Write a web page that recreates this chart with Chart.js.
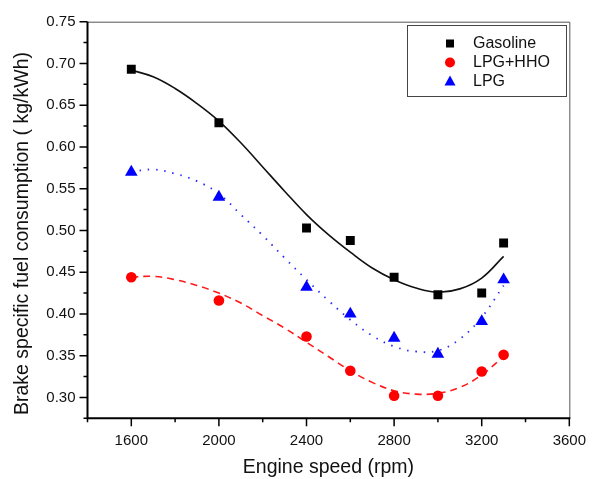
<!DOCTYPE html>
<html>
<head>
<meta charset="utf-8">
<script src="https://cdn.jsdelivr.net/npm/chart.js@4.4.1/dist/chart.umd.min.js"></script>
<style>
  html, body { margin: 0; padding: 0; background: #fff; }
  #wrap { width: 592px; height: 479px; }
</style>
</head>
<body>
<div id="wrap"><canvas id="bsfcChart" width="592" height="479"></canvas></div>
<script>
// measured points
const speeds = [1600, 2000, 2400, 2600, 2800, 3000, 3200, 3300];
const gasoline = [0.693, 0.629, 0.503, 0.488, 0.444, 0.423, 0.425, 0.485];
const lpgHho = [0.444, 0.416, 0.373, 0.332, 0.302, 0.302, 0.331, 0.351];
const lpg = [0.570, 0.540, 0.432, 0.400, 0.371, 0.352, 0.391, 0.441];

// fitted curves, every 100 rpm
const fitSpeeds = [1600, 1700, 1800, 1900, 2000, 2100, 2200, 2300, 2400,
                   2500, 2600, 2700, 2800, 2900, 3000, 3100, 3200, 3300];
const gasolineFit = [0.692, 0.684, 0.670, 0.652, 0.631, 0.605, 0.576, 0.547, 0.519,
                     0.495, 0.474, 0.455, 0.441, 0.431, 0.426, 0.430, 0.443, 0.469];
const lpgHhoFit = [0.444, 0.445, 0.441, 0.434, 0.425, 0.413, 0.398, 0.383, 0.366,
                   0.349, 0.332, 0.318, 0.308, 0.304, 0.305, 0.312, 0.327, 0.349];
const lpgFit = [0.570, 0.573, 0.568, 0.559, 0.544, 0.519, 0.494, 0.467, 0.441,
                0.416, 0.393, 0.374, 0.361, 0.355, 0.356, 0.370, 0.396, 0.434];

const xLabels = [1600, 2000, 2400, 2800, 3200, 3600];
const yLabels = [0.30, 0.35, 0.40, 0.45, 0.50, 0.55, 0.60, 0.65, 0.70, 0.75];

const FONT = "'Liberation Sans', Arial, sans-serif";

function pts(xs, ys) {
  return xs.map((x, i) => ({ x: x, y: ys[i] }));
}

function isMajorX(v) {
  return xLabels.indexOf(Math.round(v)) >= 0;
}
function isMajorY(v) {
  return yLabels.some(l => Math.abs(l - v) < 1e-6);
}

// frame, tick marks, y title
const frameAndTicks = {
  id: "frameAndTicks",
  afterDraw(chart) {
    const ctx = chart.ctx;
    const a = chart.chartArea;
    const xs = chart.scales.x;
    const ys = chart.scales.y;
    ctx.save();
    ctx.strokeStyle = "#555";
    ctx.lineWidth = 1;
    ctx.beginPath();
    ctx.moveTo(a.left, a.top + 0.5);
    ctx.lineTo(a.right + 0.5, a.top + 0.5);
    ctx.lineTo(a.right + 0.5, a.bottom);
    ctx.stroke();

    ctx.strokeStyle = "#000";
    ctx.lineWidth = 2;
    ctx.beginPath();
    ctx.moveTo(a.left, a.top);
    ctx.lineTo(a.left, a.bottom);
    ctx.lineTo(a.right + 1, a.bottom);
    ctx.stroke();

    ctx.lineWidth = 1.5;
    ctx.beginPath();
    xs.ticks.forEach(t => {
      const px = xs.getPixelForValue(t.value);
      const len = isMajorX(t.value) ? 8 : 4;
      ctx.moveTo(px, a.bottom);
      ctx.lineTo(px, a.bottom + len);
    });
    ys.ticks.forEach(t => {
      const py = ys.getPixelForValue(t.value);
      const len = isMajorY(t.value) ? 8 : 4;
      ctx.moveTo(a.left, py);
      ctx.lineTo(a.left - len, py);
    });
    ctx.stroke();

    ctx.translate(22.5, 233.5);
    ctx.rotate(-Math.PI / 2);
    ctx.fillStyle = "#111";
    ctx.font = "19.5px " + FONT;
    ctx.textAlign = "center";
    ctx.textBaseline = "middle";
    ctx.fillText("Brake specific fuel consumption ( kg/kWh)", 0, 0);
    ctx.restore();
  }
};

// boxed legend in the upper right
const boxLegend = {
  id: "boxLegend",
  afterDraw(chart) {
    const ctx = chart.ctx;
    const items = chart.data.datasets.filter(d => d.inLegend);
    ctx.save();
    ctx.strokeStyle = "#444";
    ctx.lineWidth = 1;
    ctx.strokeRect(407.5, 25.5, 159, 71);
    ctx.font = "16px " + FONT;
    ctx.textBaseline = "middle";
    ctx.textAlign = "left";
    const rows = [43.5, 62.5, 81.5];
    items.forEach((d, i) => {
      const cx = 450, cy = rows[i];
      ctx.fillStyle = d.backgroundColor;
      ctx.beginPath();
      if (d.pointStyle === "rect") {
        ctx.rect(cx - 4, cy - 4, 8, 8);
      } else if (d.pointStyle === "circle") {
        ctx.arc(cx, cy, 5, 0, Math.PI * 2);
      } else {
        ctx.moveTo(cx, cy - 6);
        ctx.lineTo(cx + 5.5, cy + 4);
        ctx.lineTo(cx - 5.5, cy + 4);
        ctx.closePath();
      }
      ctx.fill();
      ctx.fillStyle = "#111";
      ctx.fillText(d.label, 473, cy + 0.5);
    });
    ctx.restore();
  }
};

const ctx = document.getElementById("bsfcChart");

const chart = new Chart(ctx, {
  type: "scatter",
  data: {
    datasets: [
      {
        label: "Gasoline",
        inLegend: true,
        data: pts(speeds, gasoline),
        pointStyle: "rect",
        pointRadius: 6.3,
        backgroundColor: "#000",
        borderColor: "#000",
        borderWidth: 0,
        order: 0
      },
      {
        label: "LPG+HHO",
        inLegend: true,
        data: pts(speeds, lpgHho),
        pointStyle: "circle",
        pointRadius: 5.3,
        backgroundColor: "#ff0000",
        borderColor: "#ff0000",
        borderWidth: 0,
        order: 0
      },
      {
        label: "LPG",
        inLegend: true,
        data: pts(speeds, lpg),
        pointStyle: "triangle",
        pointRadius: 7.3,
        backgroundColor: "#0000ff",
        borderColor: "#0000ff",
        borderWidth: 0,
        order: 0
      },
      {
        label: "Gasoline fit",
        data: pts(fitSpeeds, gasolineFit),
        showLine: true,
        pointRadius: 0,
        borderColor: "#111",
        borderWidth: 1.6,
        tension: 0.4,
        order: 1
      },
      {
        label: "LPG+HHO fit",
        data: pts(fitSpeeds, lpgHhoFit),
        showLine: true,
        pointRadius: 0,
        borderColor: "#ff1a1a",
        borderWidth: 1.6,
        borderDash: [7, 5],
        tension: 0.4,
        order: 1
      },
      {
        label: "LPG fit",
        data: pts(fitSpeeds, lpgFit),
        showLine: true,
        pointRadius: 0,
        borderColor: "#2a2aff",
        borderWidth: 1.8,
        borderDash: [1.5, 6.8],
        tension: 0.4,
        order: 1
      }
    ]
  },
  options: {
    responsive: false,
    animation: false,
    devicePixelRatio: 1,
    layout: {
      padding: { left: 0, top: 21.7, right: 20.3, bottom: 0 }
    },
    scales: {
      x: {
        type: "linear",
        min: 1400,
        max: 3600,
        afterFit: s => { s.height = 60.7; },
        border: { display: false },
        grid: {
          display: true,
          drawOnChartArea: false,
          tickLength: 8,
          tickColor: "rgba(0,0,0,0)"
        },
        ticks: {
          stepSize: 200,
          autoSkip: false,
          maxRotation: 0,
          padding: 6,
          color: "#111",
          font: { family: FONT, size: 15 },
          callback: v => isMajorX(v) ? String(Math.round(v)) : ""
        },
        title: {
          display: true,
          text: "Engine speed (rpm)",
          color: "#111",
          font: { family: FONT, size: 19.5 },
          padding: { top: 0, bottom: 0 }
        }
      },
      y: {
        min: 0.275,
        max: 0.75,
        afterFit: s => { s.width = 87.5; },
        border: { display: false },
        grid: {
          display: true,
          drawOnChartArea: false,
          tickLength: 8,
          tickColor: "rgba(0,0,0,0)"
        },
        ticks: {
          stepSize: 0.025,
          autoSkip: false,
          padding: 4,
          color: "#111",
          font: { family: FONT, size: 15 },
          callback: v => isMajorY(v) ? v.toFixed(2) : ""
        }
      }
    },
    plugins: {
      legend: { display: false },
      tooltip: { enabled: false }
    }
  },
  plugins: [frameAndTicks, boxLegend]
});
</script>
</body>
</html>
